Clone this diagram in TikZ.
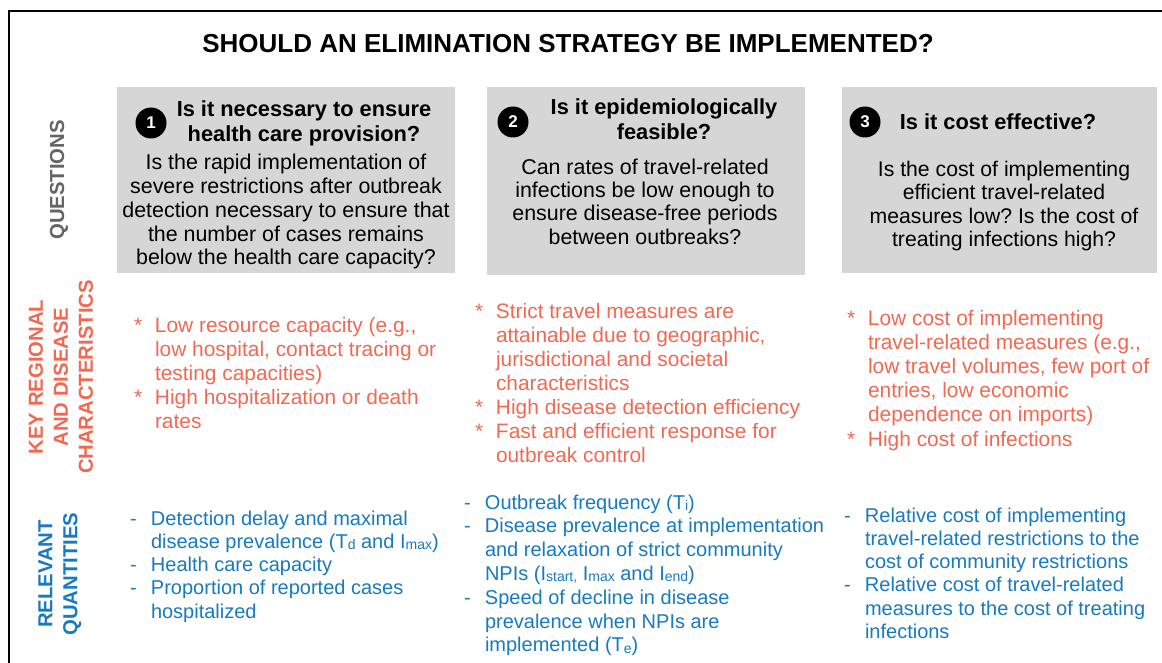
\documentclass[tikz,border=0pt]{standalone}
\usepackage{fontspec}
\setmainfont{Liberation Sans}
\definecolor{qgray}{RGB}{100,100,100}
\definecolor{korange}{RGB}{241,105,82}
\definecolor{rblue}{RGB}{24,122,192}
\definecolor{boxgray}{RGB}{214,214,214}
\newcommand\bul[1]{\makebox[21pt][l]{#1}}
\newcommand\ind{\hspace*{21pt}}
\newcommand\lowsub[1]{\raisebox{-1.5pt}{\fontsize{14}{14}\selectfont #1}}
\begin{document}
\frenchspacing
\begin{tikzpicture}[x=1pt,y=-1pt,
  every node/.style={inner sep=0pt, outer sep=0pt},
  gbox/.style={fill=boxgray, draw=none, anchor=north west},
  badge/.style={circle, fill=black, minimum size=31pt, text=white,
    font=\fontsize{17}{17}\selectfont\bfseries},
  sidelabel/.style={rotate=90, align=center,
    font=\fontsize{20.3}{25}\selectfont\bfseries},
  head/.style={anchor=base, font=\fontsize{21.8}{25}\selectfont\bfseries},
  body/.style={anchor=base},
  lst/.style={anchor=base west}
]
\useasboundingbox (0,0) rectangle (1162,663);
\clip (0,0) rectangle (1162,663);
\fill[white] (0,0) rectangle (1162,663);

% outer frame (right and bottom edges lie outside the picture)
\coordinate (fbl) at (9,700);
\coordinate (ftl) at (9,11);
\coordinate (ftr) at (1200,11);
\draw[line width=2pt] (fbl) -- (ftl) -- (ftr);

% title
\node[anchor=base, font=\fontsize{26}{28}\selectfont\bfseries] (title) at (568,53)
  {SHOULD AN ELIMINATION STRATEGY BE IMPLEMENTED?};

% side labels
\node[sidelabel, text=qgray] (lq) at (59,180) {QUESTIONS};
\node[sidelabel, text=korange] (lk) at (61,377) {KEY REGIONAL\\AND DISEASE\\CHARACTERISTICS};
\node[sidelabel, text=rblue] (lr) at (60,574) {RELEVANT\\QUANTITIES};

% grey question boxes
\node[gbox, minimum width=338pt, minimum height=186pt] (q1) at (117,87) {};
\node[gbox, minimum width=318pt, minimum height=188pt] (q2) at (487,87) {};
\node[gbox, minimum width=315pt, minimum height=186pt] (q3) at (842,87) {};

% badges
\node[badge] (b1) at (151,123) {1};
\node[badge] (b2) at (513,122) {2};
\node[badge] (b3) at (865,122) {3};

% headings
\node[head] (h1) at (304,116.7) {\begin{tabular}[t]{@{}c@{}}Is it necessary to ensure\\health care provision?\end{tabular}};
\node[head] (h2) at (664,115) {\begin{tabular}[t]{@{}c@{}}Is it epidemiologically\\feasible?\end{tabular}};
\node[head] (h3) at (998,130) {Is it cost effective?};

% question bodies
\node[body] (t1) at (286,170) {\fontsize{21.4}{23.75}\selectfont\begin{tabular}[t]{@{}c@{}}Is the rapid implementation of\\severe restrictions after outbreak\\detection necessary to ensure that\\the number of cases remains\\below the health care capacity?\end{tabular}};
\node[body] (t2) at (645,174.3) {\fontsize{21.4}{23.3}\selectfont\begin{tabular}[t]{@{}c@{}}Can rates of travel-related\\infections be low enough to\\ensure disease-free periods\\between outbreaks?\end{tabular}};
\node[body] (t3) at (1004,176.7) {\fontsize{21.2}{23.3}\selectfont\begin{tabular}[t]{@{}c@{}}Is the cost of implementing\\efficient travel-related\\measures low? Is the cost of\\treating infections high?\end{tabular}};

% key regional and disease characteristics
\node[lst, text=korange] (k1) at (134,332) {\fontsize{20.9}{24}\selectfont\begin{tabular}[t]{@{}l@{}}\bul{*}Low resource capacity (e.g.,\\\ind low hospital, contact tracing or\\\ind testing capacities)\\\bul{*}High hospitalization or death\\\ind rates\end{tabular}};
\node[lst, text=korange] (k2) at (475,318) {\fontsize{20.9}{24.15}\selectfont\begin{tabular}[t]{@{}l@{}}\bul{*}Strict travel measures are\\\ind attainable due to geographic,\\\ind jurisdictional and societal\\\ind characteristics\\\bul{*}High disease detection efficiency\\\bul{*}Fast and efficient response for\\\ind outbreak control\end{tabular}};
\node[lst, text=korange] (k3) at (847,325) {\fontsize{20.9}{24.2}\selectfont\begin{tabular}[t]{@{}l@{}}\bul{*}Low cost of implementing\\\ind travel-related measures (e.g.,\\\ind low travel volumes, few port of\\\ind entries, low economic\\\ind dependence on imports)\\\bul{*}High cost of infections\end{tabular}};

% relevant quantities
\node[lst, text=rblue] (r1) at (130,525) {\fontsize{20}{23.3}\selectfont\begin{tabular}[t]{@{}l@{}}\bul{-}Detection delay and maximal\\\ind disease prevalence (T\lowsub{d} and I\lowsub{max})\\\bul{-}Health care capacity\\\bul{-}Proportion of reported cases\\\ind hospitalized\end{tabular}};
\node[lst, text=rblue] (r2) at (464,509) {\fontsize{20}{23.8}\selectfont\begin{tabular}[t]{@{}l@{}}\bul{-}Outbreak frequency (T\lowsub{i})\\\bul{-}Disease prevalence at implementation\\\ind and relaxation of strict community\\\ind NPIs (I\lowsub{start,} I\lowsub{max} and I\lowsub{end})\\\bul{-}Speed of decline in disease\\\ind prevalence when NPIs are\\\ind implemented (T\lowsub{e})\end{tabular}};
\node[lst, text=rblue] (r3) at (844,522) {\fontsize{20}{23.3}\selectfont\begin{tabular}[t]{@{}l@{}}\bul{-}Relative cost of implementing\\\ind travel-related restrictions to the\\\ind cost of community restrictions\\\bul{-}Relative cost of travel-related\\\ind measures to the cost of treating\\\ind infections\end{tabular}};
\end{tikzpicture}
\end{document}
